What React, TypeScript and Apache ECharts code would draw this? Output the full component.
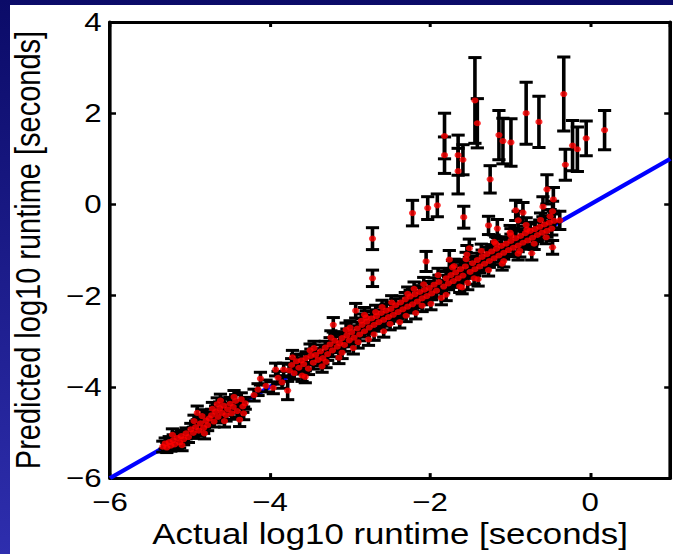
import React, { useEffect, useRef } from "react";
import * as echarts from "echarts";

// [actual, predicted, half error]
const bandLow: number[][] = [
  [-5.34,-5.31,0.12],[-5.31,-5.24,0.12],[-5.29,-5.33,0.11],[-5.26,-5.21,0.12],[-5.24,-5.29,0.12],
  [-5.21,-5.17,0.12],[-5.19,-5.26,0.11],[-5.16,-5.12,0.12],[-5.13,-5.22,0.12],[-5.11,-5.08,0.13],
  [-5.08,-5.15,0.12],[-5.05,-5.02,0.12],[-5.02,-5.10,0.12],[-4.99,-4.93,0.13],[-4.96,-5.01,0.12],
  [-4.93,-4.88,0.13],[-4.91,-4.57,0.15],[-4.89,-4.96,0.12],[-4.87,-4.80,0.13],[-4.85,-4.64,0.14],
  [-4.83,-4.90,0.12],[-4.80,-4.74,0.13],[-4.78,-4.84,0.12],[-4.76,-4.69,0.13],[-4.73,-4.62,0.13],
  [-4.70,-4.76,0.12],[-4.68,-4.55,0.13],[-4.65,-4.66,0.13],[-4.63,-4.47,0.14],[-4.60,-4.57,0.13],
  [-4.58,-4.41,0.14],[-4.55,-4.62,0.13],[-4.53,-4.49,0.13],[-4.50,-4.37,0.14],[-4.48,-4.58,0.13],
  [-4.46,-4.44,0.13],[-4.43,-4.31,0.14],[-4.41,-4.53,0.13],[-4.38,-4.72,0.15],[-4.36,-4.27,0.14],
  [-4.34,-4.43,0.13],[-4.31,-4.36,0.13],[-4.15,-4.06,0.13],[-4.12,-3.82,0.14],[-4.05,-3.98,0.13],
  [-3.96,-4.02,0.13],[-3.90,-3.80,0.14],[-3.85,-3.90,0.13],[-3.78,-4.08,0.2]
];

const bandMid: number[][] = [
  [-3.76,-3.64,0.14],[-3.73,-3.52,0.14],[-3.70,-3.70,0.13],[-3.67,-3.44,0.15],[-3.64,-3.58,0.14],
  [-3.61,-3.42,0.14],[-3.58,-3.50,0.14],[-3.55,-3.37,0.14],[-3.52,-3.60,0.13],[-3.49,-3.32,0.15],
  [-3.46,-3.47,0.14],[-3.43,-3.30,0.14],[-3.40,-3.41,0.13],[-3.37,-3.22,0.14],[-3.34,-3.37,0.13],
  [-3.31,-3.14,0.14],[-3.28,-3.28,0.14],[-3.25,-3.07,0.15],[-3.22,-3.20,0.14],[-3.19,-2.99,0.14],
  [-3.16,-3.12,0.13],[-3.13,-3.04,0.14],[-3.10,-2.93,0.14],[-3.07,-3.08,0.14],[-3.04,-2.87,0.14],
  [-3.01,-2.98,0.14],[-2.98,-2.80,0.14],[-2.95,-2.92,0.13],[-2.91,-2.72,0.14],[-2.88,-2.85,0.14],
  [-2.85,-2.64,0.14],[-2.82,-2.78,0.13],[-2.79,-2.57,0.14],[-2.76,-2.70,0.14],[-2.73,-2.50,0.14],
  [-2.70,-2.64,0.14],[-2.67,-2.45,0.14],[-2.64,-2.58,0.14],[-2.61,-2.38,0.14],[-2.58,-2.53,0.14],
  [-2.55,-2.33,0.14],[-2.52,-2.47,0.14],[-2.49,-2.29,0.14],[-2.46,-2.42,0.14],[-2.43,-2.21,0.14],
  [-2.40,-2.36,0.14],[-2.37,-2.15,0.14],[-2.34,-2.30,0.14],[-2.31,-2.08,0.15],[-2.28,-2.24,0.14],
  [-2.25,-2.02,0.14],[-2.22,-2.19,0.14],[-2.19,-1.97,0.15],[-2.16,-2.13,0.14],[-2.13,-1.92,0.14],
  [-2.10,-2.06,0.14],[-2.07,-1.87,0.15],[-2.04,-2.01,0.14],[-2.01,-1.83,0.14],
  [-3.50,-3.20,0.14],[-3.30,-3.45,0.13],[-3.10,-3.25,0.13],[-2.90,-3.02,0.13],[-2.70,-2.85,0.13],
  [-2.50,-2.62,0.13],[-2.30,-2.44,0.13],[-2.10,-2.22,0.13],[-3.60,-3.75,0.13],[-2.60,-2.25,0.15],
  [-2.80,-2.48,0.15],[-3.00,-2.70,0.15],[-2.20,-1.85,0.15]
];

const bandHigh: number[][] = [
  [-1.98,-1.95,0.14],[-1.95,-1.76,0.15],[-1.92,-1.89,0.14],[-1.89,-1.70,0.15],[-1.86,-2.05,0.15],
  [-1.83,-1.80,0.14],[-1.80,-1.62,0.15],[-1.77,-1.73,0.14],[-1.74,-1.55,0.15],[-1.71,-1.68,0.14],
  [-1.68,-1.49,0.15],[-1.65,-1.62,0.14],[-1.62,-1.42,0.15],[-1.59,-1.56,0.14],[-1.56,-1.36,0.15],
  [-1.53,-1.72,0.15],[-1.50,-1.48,0.14],[-1.47,-1.29,0.15],[-1.44,-1.42,0.14],[-1.41,-1.22,0.15],
  [-1.38,-1.36,0.14],[-1.35,-1.15,0.15],[-1.32,-1.30,0.14],[-1.29,-1.09,0.15],[-1.26,-1.24,0.14],
  [-1.23,-1.03,0.15],[-1.20,-1.18,0.14],[-1.17,-0.97,0.15],[-1.14,-1.12,0.14],[-1.11,-0.91,0.15],
  [-1.08,-1.06,0.14],[-1.05,-0.86,0.15],[-1.02,-1.00,0.14],[-0.99,-0.80,0.15],[-0.96,-0.95,0.14],
  [-0.93,-0.74,0.15],[-0.90,-0.90,0.14],[-0.87,-0.69,0.15],[-0.84,-0.84,0.14],[-0.81,-0.63,0.15],
  [-0.78,-0.79,0.14],[-0.75,-0.58,0.15],[-0.72,-0.73,0.14],[-0.73,-1.07,0.15],[-0.69,-0.54,0.15],
  [-0.66,-0.67,0.14],[-0.63,-0.49,0.15],[-0.60,-0.62,0.14],[-0.57,-0.44,0.15],[-0.54,-0.58,0.14],
  [-0.51,-0.40,0.15],[-0.48,-0.53,0.14],[-0.45,-0.36,0.15],[-1.40,-1.64,0.15],[-1.70,-1.35,0.15],
  [-1.20,-0.82,0.15],[-1.00,-0.62,0.16],[-0.80,-0.45,0.16],[-1.60,-1.82,0.14],[-1.10,-1.30,0.14],
  [-0.90,-1.08,0.14]
];

// extra spread of the dense band
const bandSpread: number[][] = [
  [-5.22,-5.05,0.13],[-5.10,-5.28,0.12],[-4.95,-4.75,0.13],[-4.82,-5.02,0.12],[-4.66,-4.38,0.14],
  [-4.57,-4.75,0.13],[-4.45,-4.22,0.14],[-4.33,-4.58,0.14],[-4.72,-4.48,0.14],[-4.62,-4.30,0.14],
  [-3.72,-3.35,0.15],[-3.56,-3.78,0.13],[-3.45,-3.15,0.15],[-3.35,-3.55,0.13],[-3.24,-2.92,0.15],
  [-3.14,-3.36,0.13],[-3.05,-2.75,0.15],[-2.96,-3.15,0.13],[-2.86,-2.55,0.15],[-2.77,-2.96,0.13],
  [-2.68,-2.36,0.15],[-2.58,-2.78,0.13],[-2.48,-2.15,0.15],[-2.38,-2.58,0.13],[-2.28,-1.96,0.15],
  [-2.18,-2.38,0.13],[-2.08,-1.75,0.15],[-1.99,-2.18,0.13],[-1.90,-1.55,0.15],[-1.80,-1.98,0.13],
  [-1.72,-1.38,0.15],[-1.63,-1.80,0.13],[-1.55,-1.20,0.15],[-1.45,-1.62,0.13],[-1.36,-1.02,0.15],
  [-1.27,-1.44,0.13],[-1.18,-0.86,0.15],[-1.08,-1.24,0.13],[-0.99,-0.68,0.15],[-0.88,-1.02,0.13],
  [-0.79,-0.55,0.15],[-0.70,-0.86,0.13],[-0.62,-0.34,0.15],[-0.55,-0.72,0.14],[-0.50,-0.26,0.15],
  [-3.83,-3.62,0.14],[-4.20,-4.18,0.13],[-3.93,-3.62,0.14]
];

const outliers: number[][] = [
  [-1.44,2.28,0.94],[-1.41,1.78,0.54],[-0.33,2.42,0.81],[-0.80,2.00,0.68],[-0.64,1.81,0.56],
  [0.18,1.63,0.43],[-0.05,1.45,0.38],[-0.22,1.29,0.55],[-0.16,1.21,0.49],[-0.31,0.87,0.34],
  [-1.14,1.52,0.54],[-1.09,1.39,0.50],[-0.99,1.36,0.52],[-1.82,1.50,0.50],[-1.82,1.08,0.40],
  [-1.65,1.08,0.44],[-1.65,0.73,0.50],[-1.59,0.98,0.33],[-1.25,0.55,0.30],[-2.22,-0.19,0.28],
  [-2.03,-0.08,0.25],[-1.91,-0.02,0.25],[-1.58,-0.28,0.24],[-0.54,0.33,0.32],[-0.46,0.11,0.26],
  [-0.59,-0.05,0.22],[-0.47,-0.15,0.22],[-0.38,-0.35,0.20],[-0.93,-0.13,0.22],[-0.90,-0.35,0.20],
  [-0.84,-0.18,0.22],[-1.27,-0.46,0.20],[-1.16,-0.53,0.20],[-0.47,-0.94,0.15],[-2.72,-0.75,0.24],
  [-2.72,-1.62,0.18],[-1.51,-0.96,0.20],[-1.54,-1.10,0.20],[-2.05,-1.25,0.22],[-1.76,-1.21,0.20],
  [-3.21,-2.64,0.16],[-2.93,-2.33,0.16],[-2.82,-2.42,0.16]
];

const identityLine = [[-6, -6], [1, 1]];
const xTicks = { min: -6, max: 1, interval: 2 };
const yTicks = { min: -6, max: 4, interval: 2 };
const xName = "Actual log10 runtime [seconds]";
const yName = "Predicted log10 runtime [seconds]";

const S = 1.2;
const W = 673 / S;
const H = 554;
const FONT = "'Liberation Sans', Arial, Helvetica, sans-serif";

const fmt = (v: number) => (v < 0 ? "\u2212" + Math.abs(v) : String(v));

export default function App() {
  const ref = useRef<HTMLDivElement>(null);
  useEffect(() => {
    if (!ref.current) return;
    const chart = echarts.init(ref.current, null, { renderer: "svg" });
    const all = [...bandLow, ...bandMid, ...bandHigh, ...bandSpread, ...outliers];
    const axisLine = { show: true, onZero: false, lineStyle: { color: "#000", width: 3 } };
    const axisTick = { show: true, inside: true, length: 5, lineStyle: { color: "#000", width: 2.5 } };
    const label = { color: "#000", fontSize: 26, fontFamily: FONT, formatter: fmt };
    const nameStyle = { color: "#000", fontSize: 29, fontFamily: FONT };
    chart.setOption({
      animation: false,
      backgroundColor: new echarts.graphic.LinearGradient(0, 0, 0, 1, [
        { offset: 0, color: "#0b0b68" },
        { offset: 1, color: "#2e2eae" },
      ]),
      graphic: [
        {
          type: "rect",
          z: -10,
          shape: { x: 10 / S, y: 5, width: W - 10 / S, height: H - 5 },
          style: { fill: "#ffffff" },
        },
      ],
      grid: { left: 110 / S, right: 3 / S, top: 22, bottom: 69 },
      xAxis: [
        {
          type: "value", ...xTicks, position: "bottom",
          axisLine, axisTick,
          axisLabel: { ...label, margin: 11, showMaxLabel: false },
          splitLine: { show: false },
          name: xName, nameLocation: "middle", nameGap: 37, nameTextStyle: nameStyle,
        },
        {
          type: "value", ...xTicks, position: "top",
          axisLine, axisTick, axisLabel: { show: false }, splitLine: { show: false },
        },
      ],
      yAxis: [
        {
          type: "value", ...yTicks, position: "left",
          axisLine, axisTick,
          axisLabel: { ...label, margin: 7 },
          splitLine: { show: false },
          name: yName, nameLocation: "middle", nameGap: 54, nameTextStyle: nameStyle,
        },
        {
          type: "value", ...yTicks, position: "right",
          axisLine, axisTick, axisLabel: { show: false }, splitLine: { show: false },
        },
      ],
      series: [
        {
          type: "line",
          data: identityLine,
          showSymbol: false,
          lineStyle: { color: "#0000ff", width: 4 },
          z: 1,
          silent: true,
        },
        {
          type: "custom",
          data: all,
          encode: { x: 0, y: 1 },
          z: 2,
          renderItem: (params: any, api: any) => {
            const x = api.value(0);
            const y = api.value(1);
            const e = api.value(2);
            const top = api.coord([x, y + e]);
            const bot = api.coord([x, y - e]);
            const w = 5.5;
            const st = { stroke: "#000", lineWidth: 3 };
            return {
              type: "group",
              children: [
                { type: "line", shape: { x1: top[0], y1: top[1], x2: bot[0], y2: bot[1] }, style: st },
                { type: "line", shape: { x1: top[0] - w, y1: top[1], x2: top[0] + w, y2: top[1] }, style: st },
                { type: "line", shape: { x1: bot[0] - w, y1: bot[1], x2: bot[0] + w, y2: bot[1] }, style: st },
              ],
            };
          },
        },
        {
          type: "scatter",
          data: all.map((p) => [p[0], p[1]]),
          symbolSize: 6,
          itemStyle: { color: "#ff0000" },
          z: 3,
        },
      ],
    });
    return () => chart.dispose();
  }, []);
  return (
    <div
      ref={ref}
      style={{
        position: "absolute",
        left: 0,
        top: 0,
        width: W,
        height: H,
        transform: `scaleX(${S})`,
        transformOrigin: "0 0",
      }}
    />
  );
}
